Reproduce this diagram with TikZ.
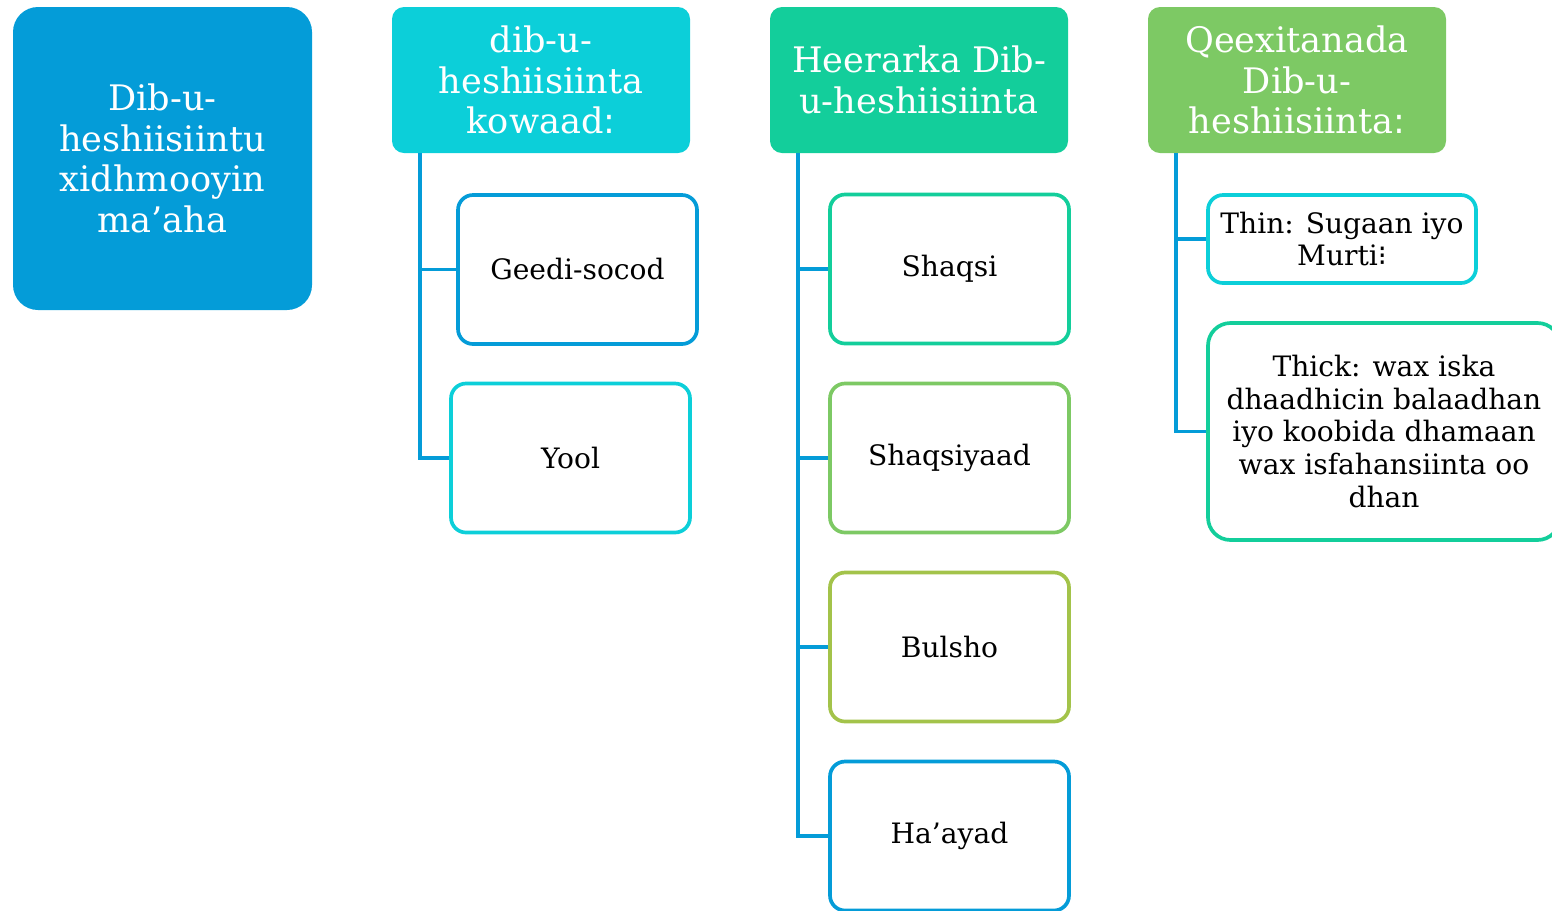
\documentclass[tikz,border=0pt]{standalone}
\usepackage{fontspec}
\setmainfont{DejaVu Serif}
\newfontfamily\marksfont{DejaVu Sans}
\usepackage{xcolor}
\definecolor{rootblue}{HTML}{049CD8}
\definecolor{headcyan}{HTML}{0CCFD9}
\definecolor{headteal}{HTML}{13CE9B}
\definecolor{headgreen}{HTML}{7DC964}
\definecolor{leafolive}{HTML}{A3C34A}

\begin{document}
\begin{tikzpicture}[
  head/.style={rounded corners=0.24cm, minimum width=5.96cm, minimum height=2.92cm, inner sep=0pt, align=center, text=white, font=\fontsize{20}{23}\selectfont},
  leaf/.style={draw, line width=2.1pt, rounded corners=0.3cm, fill=white, minimum width=4.78cm, minimum height=2.98cm, inner sep=0pt, align=center, font=\fontsize{16}{18.7}\selectfont},
  link/.style={draw=rootblue, line width=2.1pt}
]

\useasboundingbox (0,0) rectangle (31.04,-18.2);

% ROOT

\node[head, fill=rootblue, rounded corners=0.5cm, minimum width=5.98cm, minimum height=6.06cm] (root) at (3.25,-3.17) {Dib-u-\\heshiisiintu\\xidhmooyin\\ma’aha};

% HEADERS

\node[head, fill=headcyan] (h1) at (10.82,-1.60) {dib-u-\\heshiisiinta\\kowaad{\marksfont ꞉}};
\node[head, fill=headteal] (h2) at (18.38,-1.60) {Heerarka Dib-\\u-heshiisiinta};
\node[head, fill=headgreen] (h3) at (25.94,-1.60) {Qeexitanada\\Dib-u-\\heshiisiinta{\marksfont ꞉}};

% first column
\node[leaf, draw=rootblue] (a1) at (11.55,-5.39) {Geedi-socod};
\node[leaf, draw=headcyan] (a2) at (11.41,-9.16) {Yool};

% second column
\node[leaf, draw=headteal] (b1) at (18.99,-5.38) {Shaqsi};
\node[leaf, draw=headgreen] (b2) at (18.99,-9.16) {Shaqsiyaad};
\node[leaf, draw=leafolive] (b3) at (18.99,-12.94) {Bulsho};
\node[leaf, draw=rootblue] (b4) at (18.99,-16.72) {Ha’ayad};

% third column
\node[leaf, draw=headcyan, minimum width=5.36cm, minimum height=1.76cm] (c1) at (26.84,-4.78) {Thin: Sugaan iyo\\Murti{\marksfont ⁝}};
\node[leaf, draw=headteal, minimum width=7.04cm, minimum height=4.34cm, rounded corners=0.45cm] (c2) at (27.68,-8.63) {Thick: wax iska\\dhaadhicin balaadhan\\iyo koobida dhamaan\\wax isfahansiinta oo\\dhan};

% header -> leaves
\coordinate (t1) at (8.40,-3.06);
\coordinate (t2) at (15.96,-3.06);
\coordinate (t3) at (23.52,-3.06);

\draw[link] (t1) |- (a1.west) (t1) |- (a2.west);
\draw[link] (t2) |- (b1.west) (t2) |- (b2.west) (t2) |- (b3.west) (t2) |- (b4.west);
\draw[link] (t3) |- (c1.west) (t3) |- (c2.west);

\end{tikzpicture}
\end{document}
